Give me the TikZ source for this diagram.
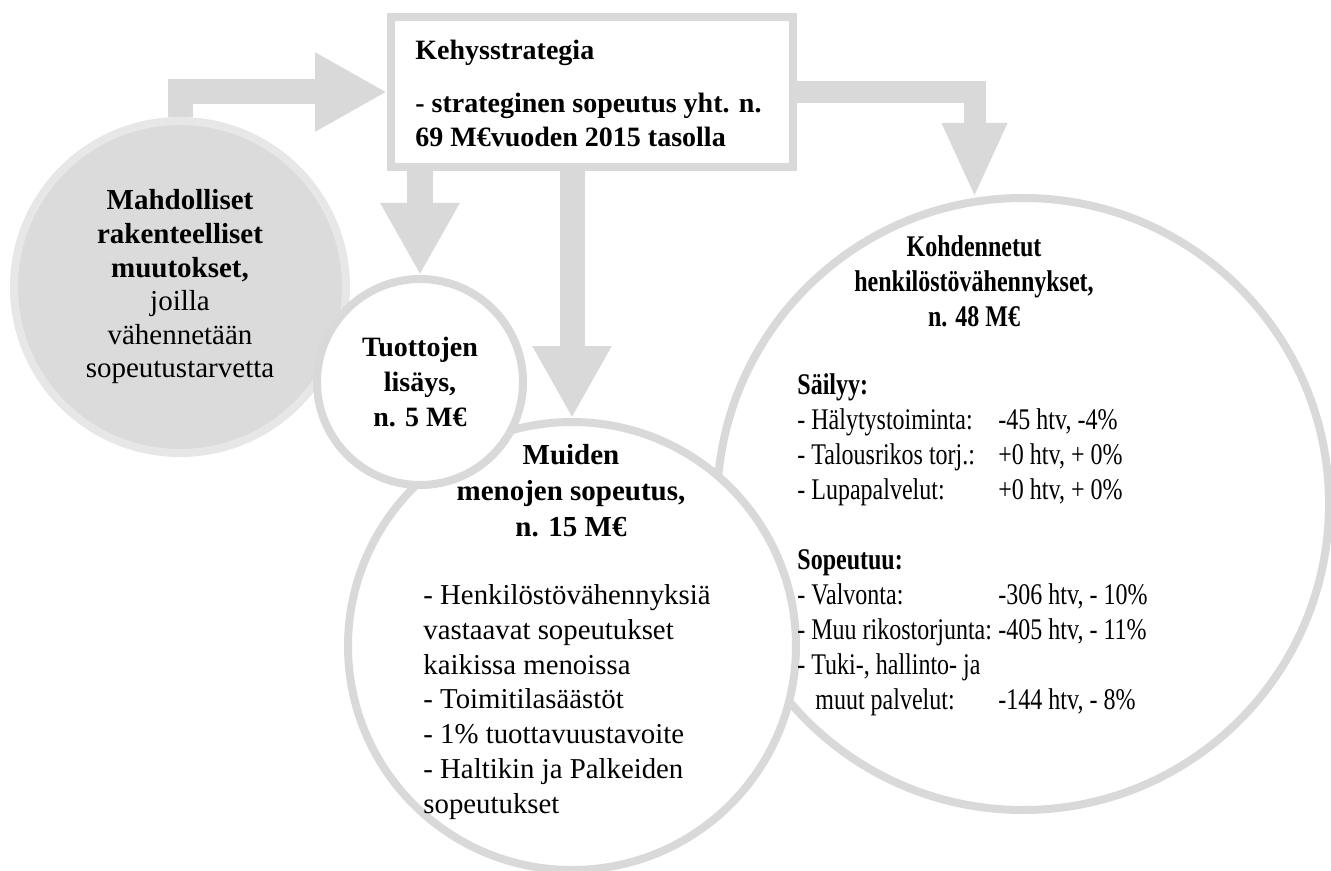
\documentclass[tikz,border=0pt]{standalone}
\usepackage{fontspec}
\setmainfont{Liberation Serif}
\newfontfamily\kapea[FakeStretch=0.8]{Liberation Serif}
\definecolor{POLgray}{HTML}{D9D9D9}
\definecolor{POLfill}{HTML}{DBDBDB}
\definecolor{POLring}{HTML}{E7E7E7}
\usetikzlibrary{arrows.meta, calc, positioning}

\begin{document}
\begin{tikzpicture}[x=0.5pt, y=-0.5pt,
      nuoli/.style={draw=POLgray, line width=12.5pt, -{Triangle[length=36pt, width=37pt]}},
      rengas/.style={circle, draw=POLgray, line width=4pt, fill=white, inner sep=0pt},
      otsikko/.style={align=center, inner sep=0pt}]
   \useasboundingbox (0,0) rectangle (1331,871);
   % Kehysstrategia
   \node[draw=POLgray, line width=4pt, minimum width=201pt, minimum height=75pt] (kehys) at (592,92) {};
   \node[anchor=west, align=left, inner sep=0pt, font=\fontsize{14}{17}\selectfont\bfseries] (kehysteksti) at (415,93)
      {Kehysstrategia\\[9.5pt] - strateginen sopeutus yht. n.\\ 69 M€vuoden 2015 tasolla};
   % Circles
   \node[rengas, minimum size=306pt] (oikea) at (1023,504) {};
   \node[rengas, minimum size=224pt] (muiden) at (572,646) {};
   \node[rengas, draw=POLring, fill=POLfill, minimum size=166pt, align=center,
      font=\fontsize{14.5}{16.8}\selectfont] (vasen) at (180,287)
      {\textbf{Mahdolliset}\\ \textbf{rakenteelliset}\\ \textbf{muutokset,}\\ joilla\\ vähennetään\\ sopeutustarvetta};
   \node[rengas, minimum size=103pt, align=center,
      font=\fontsize{14}{17.5}\selectfont\bfseries] (tuotto) at (420,382)
      {Tuottojen\\ lisäys,\\ n. 5 M€};
   % Texts
   \node[otsikko, font=\fontsize{14.5}{18}\selectfont\bfseries] (muidenotsikko) at (571,491)
      {Muiden\\ menojen sopeutus,\\ n. 15 M€};
   \node[anchor=west, align=left, inner sep=0pt, font=\fontsize{14.4}{17.4}\selectfont] (muidenlista) at (423,702)
      {- Henkilöstövähennyksiä\\ vastaavat sopeutukset\\ kaikissa menoissa\\ - Toimitilasäästöt\\
       - 1\% tuottavuustavoite\\ - Haltikin ja Palkeiden\\ sopeutukset};
   \node[otsikko, font=\kapea\fontsize{15}{17.5}\selectfont\bfseries] (oikeaotsikko) at (974,281)
      {Kohdennetut\\ henkilöstövähennykset,\\ n. 48 M€};
   \node[anchor=west, align=left, inner sep=0pt, font=\kapea\fontsize{15}{17.5}\selectfont] (oikealista) at (797,545)
      {\textbf{Säilyy:}\\
       \makebox[100.5pt][l]{- Hälytystoiminta:}-45 htv, -4\%\\
       \makebox[100.5pt][l]{- Talousrikos torj.:}+0 htv, + 0\%\\
       \makebox[100.5pt][l]{- Lupapalvelut:}+0 htv, + 0\%\\[17.5pt]
       \textbf{Sopeutuu:}\\
       \makebox[100.5pt][l]{- Valvonta:}-306 htv, - 10\%\\
       \makebox[100.5pt][l]{- Muu rikostorjunta:}-405 htv, - 11\%\\
       - Tuki-, hallinto- ja\\
       \makebox[100.5pt][l]{\hspace*{9pt}muut palvelut:}-144 htv, - 8\%};
   % Arrows
   \draw[nuoli] (vasen.north) |- (kehys.west);
   \draw[nuoli, line width=13pt] (kehys.south -| tuotto.north) -- (tuotto.north);
   \draw[nuoli] (kehys.south -| muiden.north) -- (muiden.north);
   \draw[nuoli, line width=11pt, -{Triangle[length=37.5pt, width=30pt]}] (kehys.east) -| (oikea.99);
\end{tikzpicture}
\end{document}
